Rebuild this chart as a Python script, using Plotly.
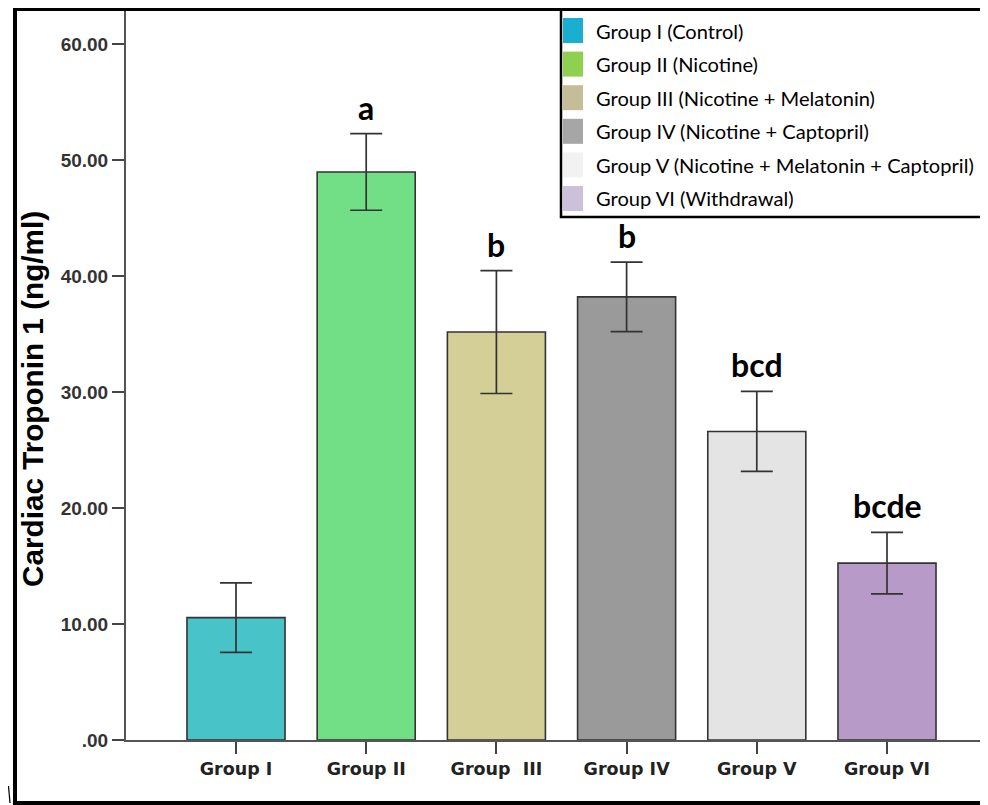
import plotly.graph_objects as go

# ---------------- data ----------------
categories = ["Group I", "Group II", "Group  III", "Group IV", "Group V", "Group VI"]
means = [10.55, 48.97, 35.17, 38.20, 26.60, 15.25]
errors = [3.00, 3.30, 5.30, 3.00, 3.45, 2.65]
sig_labels = ["", "a", "b", "b", "bcd", "bcde"]
bar_colors = ["#48C3C8", "#72DE85", "#D3CF96", "#9A9A9A", "#E4E4E4", "#B89AC9"]
legend_labels = [
    "Group I (Control)",
    "Group II (Nicotine)",
    "Group III (Nicotine + Melatonin)",
    "Group IV (Nicotine + Captopril)",
    "Group V (Nicotine + Melatonin + Captopril)",
    "Group VI (Withdrawal)",
]
legend_colors = ["#1AAED0", "#8FD14F", "#C4BD97", "#A6A6A6", "#F2F2F2", "#CCC0DA"]
y_tickvals = [0, 10, 20, 30, 40, 50, 60]
y_ticktext = [".00", "10.00", "20.00", "30.00", "40.00", "50.00", "60.00"]
y_title = "Cardiac Troponin 1 (ng/ml)"

# ---------------- layout geometry ----------------
# the page body has an 8px margin, so the figure is placed at (8, 8) in the window
OFF = 8
W, H = 988 - OFF, 805 - OFF
PLOT_L, PLOT_T, PLOT_B = 126 - OFF, 10 - OFF, 740 - OFF  # in figure pixels
ML, MR, MT, MB = PLOT_L, 0, PLOT_T, H - PLOT_B
PW, PH = W - ML - MR, H - MT - MB
PX_PER_UNIT = 11.6
CAT_STEP_PX = 130.2
FIRST_CENTER_PX = 236


def px(x_win):
    """window pixel x -> paper coordinate"""
    return (x_win - OFF - ML) / PW


def py(y_win):
    """window pixel y -> paper coordinate"""
    return (PLOT_B - (y_win - OFF)) / PH


fig = go.Figure()
fig.add_trace(
    go.Bar(
        x=list(range(len(categories))),
        y=means,
        width=0.753,
        marker=dict(color=bar_colors, line=dict(color="#333333", width=1.6)),
        error_y=dict(type="data", array=errors, color="#333333", thickness=1.7, width=16),
        showlegend=False,
        hoverinfo="skip",
    )
)

annotations = []
for i, (m, e, lab) in enumerate(zip(means, errors, sig_labels)):
    if lab:
        annotations.append(
            dict(
                x=i, y=m + e, xref="x", yref="y", text=lab, showarrow=False,
                yanchor="bottom", yshift=5,
                font=dict(family="Lato", size=32, color="#000000", weight="bold"),
            )
        )

annotations.append(
    dict(
        x=px(32), y=py(399), xref="paper", yref="paper", text=y_title, showarrow=False,
        textangle=-90, xanchor="center", yanchor="middle",
        font=dict(family="Liberation Sans", size=29.7, color="#000000", weight="bold"),
    )
)

shapes = []
# legend box
leg_left, leg_top, leg_bottom = 561, 9, 217
shapes.append(
    dict(type="rect", xref="paper", yref="paper", x0=px(leg_left), x1=px(1000),
         y0=py(leg_bottom), y1=py(leg_top), line=dict(color="#000000", width=2.5),
         fillcolor="#FFFFFF", layer="above")
)
row_h = 33.6
first_row = 30.5
for k, (lab, col) in enumerate(zip(legend_labels, legend_colors)):
    cy = first_row + k * row_h
    shapes.append(
        dict(type="rect", xref="paper", yref="paper", x0=px(563), x1=px(583),
             y0=py(cy + 12.5), y1=py(cy - 12.5), line=dict(width=0),
             fillcolor=col, layer="above")
    )
    annotations.append(
        dict(x=px(594), y=py(cy), xref="paper", yref="paper", text=lab, showarrow=False,
             xanchor="left", yanchor="middle",
             font=dict(family="Lato", size=20.1, color="#000000"))
    )

# outer frame
shapes.append(
    dict(type="rect", xref="paper", yref="paper", x0=px(15), x1=px(1010),
         y0=py(803), y1=py(9), line=dict(color="#000000", width=4), layer="above")
)
# stray pen mark at bottom-left
shapes.append(
    dict(type="line", xref="paper", yref="paper", x0=px(8.5), x1=px(10),
         y0=py(786), y1=py(803), line=dict(color="#000000", width=1.2), layer="above")
)

x_left = (ML + OFF - FIRST_CENTER_PX) / CAT_STEP_PX
fig.update_layout(
    width=W, height=H,
    margin=dict(l=ML, r=MR, t=MT, b=MB, pad=0),
    paper_bgcolor="#FFFFFF", plot_bgcolor="#FFFFFF",
    annotations=annotations, shapes=shapes,
)
fig.update_xaxes(
    range=[x_left, x_left + PW / CAT_STEP_PX],
    tickvals=list(range(len(categories))), ticktext=categories,
    showline=True, linecolor="#555555", linewidth=2,
    ticks="outside", ticklen=12, tickwidth=2, tickcolor="#444444",
    tickfont=dict(family="DejaVu Sans", size=17.5, color="#222222", weight="bold"),
    showgrid=False, zeroline=False, fixedrange=True,
)
fig.update_yaxes(
    range=[0, PH / PX_PER_UNIT],
    tickvals=y_tickvals, ticktext=y_ticktext,
    showline=True, linecolor="#555555", linewidth=2,
    ticks="outside", ticklen=12, tickwidth=2, tickcolor="#444444",
    tickfont=dict(family="Liberation Sans", size=19, color="#333333", weight="bold"),
    showgrid=False, zeroline=False, fixedrange=True,
)

fig.write_html("out.html")
